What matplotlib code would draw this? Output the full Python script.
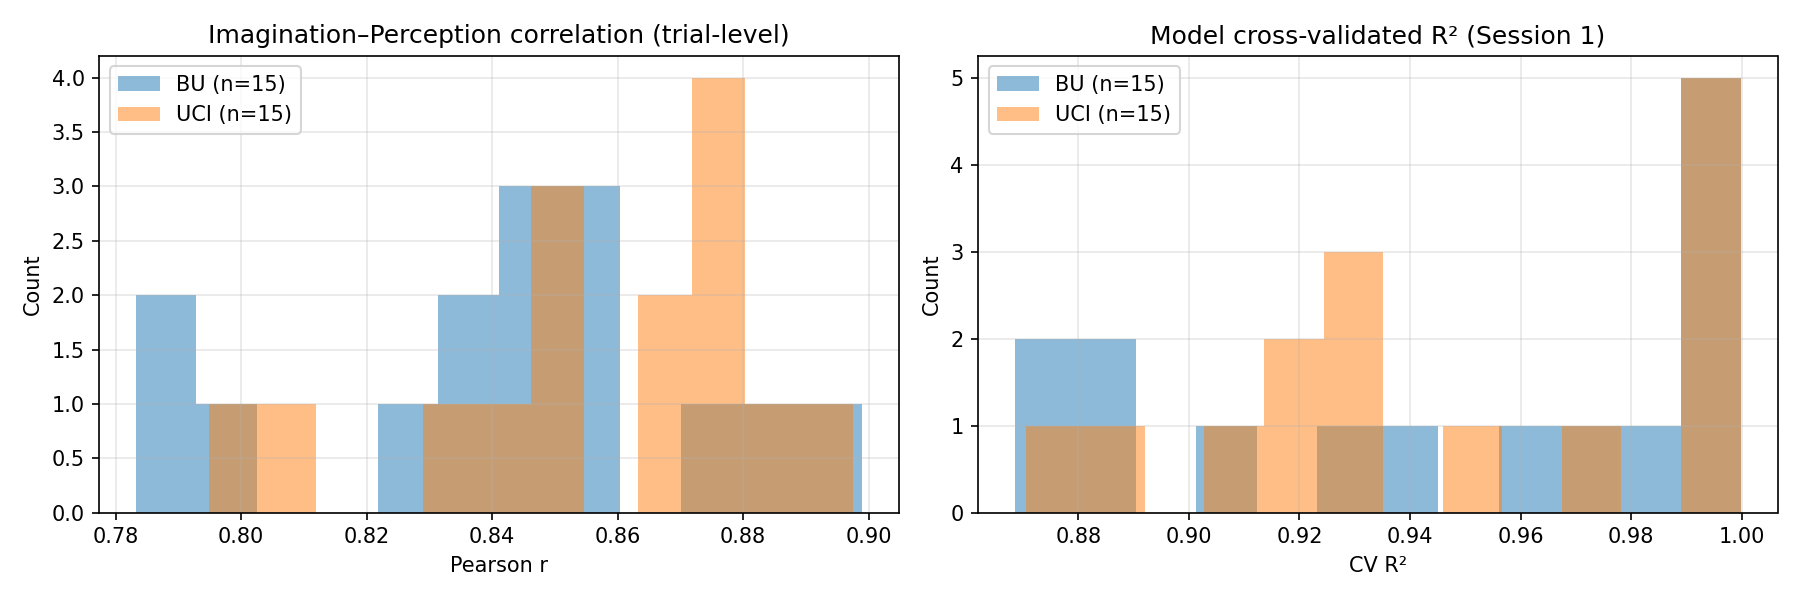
import numpy as np
import matplotlib.pyplot as plt

# per-subject values (12 bins each)
corr_bu = [0.7832, 0.7880, 0.7975, 0.8260, 0.8350, 0.8390, 0.8440, 0.8470,
           0.8490, 0.8530, 0.8560, 0.8590, 0.8750, 0.8850, 0.8990]
corr_uci = [0.7948, 0.8080, 0.8330, 0.8420, 0.8480, 0.8500, 0.8520, 0.8660,
            0.8690, 0.8740, 0.8760, 0.8770, 0.8790, 0.8850, 0.8975]

r2_bu = [0.8685, 0.8740, 0.8830, 0.8870, 0.9060, 0.9290, 0.9400, 0.9610,
         0.9720, 0.9830, 0.9920, 0.9950, 0.9970, 0.9990, 0.9999]
r2_uci = [0.8705, 0.8870, 0.9080, 0.9170, 0.9210, 0.9270, 0.9300, 0.9330,
          0.9510, 0.9730, 0.9910, 0.9940, 0.9960, 0.9980, 0.9998]

n_bins = 12

fig, axes = plt.subplots(1, 2, figsize=(12, 4))

ax = axes[0]
ax.hist(corr_bu, bins=n_bins, alpha=0.5, label=f"BU (n={len(corr_bu)})")
ax.hist(corr_uci, bins=n_bins, alpha=0.5, label=f"UCI (n={len(corr_uci)})")
ax.set_title("Imagination\u2013Perception correlation (trial-level)")
ax.set_xlabel("Pearson r")
ax.set_ylabel("Count")
ax.legend(loc="upper left")
ax.grid(alpha=0.3)

ax = axes[1]
ax.hist(r2_bu, bins=n_bins, alpha=0.5, label=f"BU (n={len(r2_bu)})")
ax.hist(r2_uci, bins=n_bins, alpha=0.5, label=f"UCI (n={len(r2_uci)})")
ax.set_title("Model cross-validated R\u00b2 (Session 1)")
ax.set_xlabel("CV R\u00b2")
ax.set_ylabel("Count")
ax.legend(loc="upper left")
ax.grid(alpha=0.3)

plt.tight_layout()
plt.savefig("out.png", dpi=150)
